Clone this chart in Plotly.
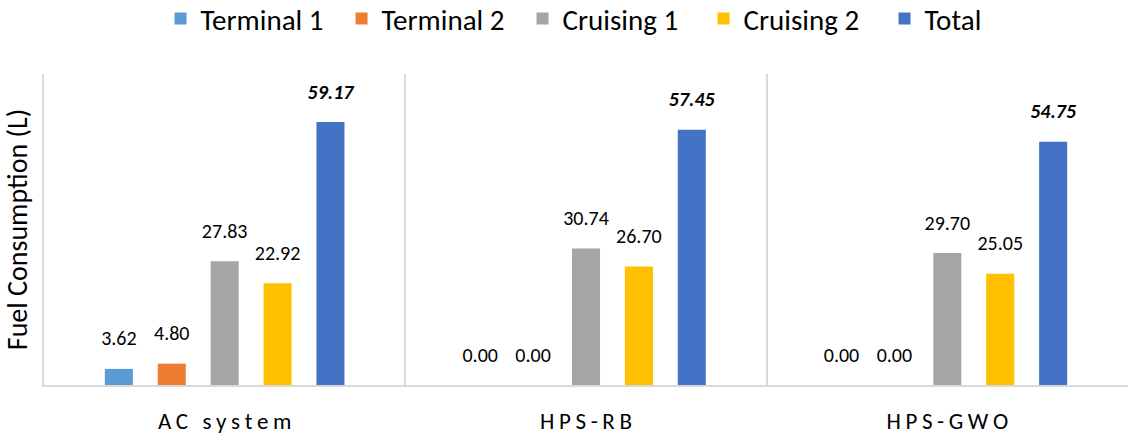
import plotly.graph_objects as go

categories = ["AC system", "HPS-RB", "HPS-GWO"]
category_ticktext = [
    "A\u2009C\u2009 \u2009s\u2009y\u2009s\u2009t\u2009e\u2009m",
    "H\u2009P\u2009S\u2009-\u2009R\u2009B",
    "H\u2009P\u2009S\u2009-\u2009G\u2009W\u2009O",
]
series_names = ["Terminal 1", "Terminal 2", "Cruising 1", "Cruising 2", "Total"]
terminal_1 = [3.62, 0.00, 0.00]
terminal_2 = [4.80, 0.00, 0.00]
cruising_1 = [27.83, 30.74, 29.70]
cruising_2 = [22.92, 26.70, 25.05]
total = [59.17, 57.45, 54.75]
series_values = [terminal_1, terminal_2, cruising_1, cruising_2, total]
colors = ["#5B9BD5", "#ED7D31", "#A5A5A5", "#FFC000", "#4472C4"]

FONT = "Calibri, Carlito, Lato, sans-serif"

fig = go.Figure()
for name, vals, col in zip(series_names, series_values, colors):
    fig.add_trace(go.Bar(
        x=categories, y=vals, name=name, marker=dict(color=col, line=dict(width=0)),
        hoverinfo="skip",
    ))
# value labels, grouped like the bars
for name, vals in zip(series_names, series_values):
    is_total = name == "Total"
    fig.add_trace(go.Scatter(
        x=categories, y=vals, mode="markers+text", showlegend=False,
        texttemplate="%{y:.2f}", textposition="top center",
        marker=dict(size=28, opacity=0),
        textfont=dict(family=FONT, size=20, color="#000000",
                      weight="bold" if is_total else "normal",
                      style="italic" if is_total else "normal"),
        cliponaxis=False, hoverinfo="skip",
    ))

fig.update_layout(
    template="none",
    width=1128, height=436,
    paper_bgcolor="white", plot_bgcolor="white",
    margin=dict(l=44, r=0, t=74, b=51, autoexpand=False),
    barmode="group", bargap=0.268, bargroupgap=0.47,
    scattermode="group", scattergap=0.268,
    font=dict(family=FONT, color="#000000"),
    showlegend=True,
    legend=dict(
        orientation="h", xref="paper", x=0.1075, xanchor="left",
        yref="paper", y=1.26, yanchor="top",
        font=dict(family=FONT, size=29, color="#000000"),
        itemwidth=30, entrywidth=136, entrywidthmode="pixels",
        traceorder="normal", itemclick=False, bgcolor="rgba(0,0,0,0)",
    ),
    xaxis=dict(
        type="category", range=[-0.5, 2.5], automargin=False,
        tickmode="array", tickvals=categories, ticktext=category_ticktext,
        tickson="boundaries", ticks="", showgrid=True, gridcolor="#D9D9D9", gridwidth=1.5,
        showline=True, linecolor="#D9D9D9", linewidth=1.5, zeroline=False,
        tickfont=dict(family=FONT, size=23, color="#000000"),
        ticklabelstandoff=15,
    ),
    yaxis=dict(
        range=[0, 70], automargin=False, showticklabels=False, showgrid=False, zeroline=False,
        showline=True, linecolor="#D9D9D9", linewidth=1.5, ticks="",
        title=dict(text="Fuel Consumption (L)", standoff=8,
                   font=dict(family=FONT, size=28, color="#000000")),
    ),
)

fig.write_html("out.html", config={"displayModeBar": False},
               post_script="document.body.style.margin='0';document.body.style.overflow='hidden';")
